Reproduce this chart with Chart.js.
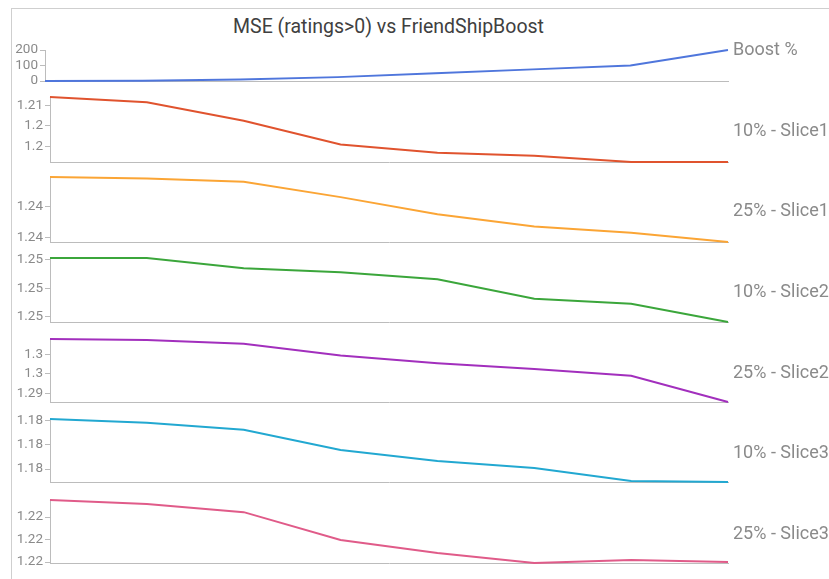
<!DOCTYPE html>
<html>
<head>
<meta charset="utf-8">
<title>MSE (ratings>0) vs FriendShipBoost</title>
<script src="https://cdn.jsdelivr.net/npm/chart.js@4.4.0/dist/chart.umd.min.js"></script>
<style>
  body { margin: 0; background: #fff; font-family: Roboto, "Noto Sans", sans-serif; }
  #frame { position: absolute; left: 11px; top: 8px; width: 830px; height: 600px;
           border-left: 1px solid #cfcfcf; border-top: 1px solid #cfcfcf; }
  #title { position: absolute; left: 0; width: 777px; top: 16px; text-align: center;
           font-size: 19.5px; line-height: 22px; color: #404040; }
  .side { position: absolute; left: 733px; font-size: 18px; line-height: 18px;
          color: #8a8a8a; white-space: nowrap; }
  canvas { position: absolute; left: 0; }
</style>
</head>
<body>
<div id="frame"></div>
<div id="title">MSE (ratings&gt;0) vs FriendShipBoost</div>

<script>
// eight runs, one point each
const runs = ['1', '2', '3', '4', '5', '6', '7', '8'];

const boostPct    = [0, 1, 10, 25, 50, 75, 100, 200];
const mse10Slice1 = [1.2068, 1.2063, 1.2045, 1.2022, 1.2014, 1.2011, 1.2005, 1.2005];
const mse25Slice1 = [1.2419, 1.2418, 1.2416, 1.2406, 1.2395, 1.2387, 1.2383, 1.2377];
const mse10Slice2 = [1.25207, 1.25207, 1.25171, 1.25157, 1.25132, 1.25064, 1.25046, 1.24982];
const mse25Slice2 = [1.2996, 1.2995, 1.2991, 1.2979, 1.2971, 1.2965, 1.2958, 1.2931];
const mse10Slice3 = [1.18108, 1.18092, 1.18063, 1.17979, 1.17933, 1.17904, 1.17850, 1.17846];
const mse25Slice3 = [1.22276, 1.22258, 1.22222, 1.22098, 1.22040, 1.21996, 1.22009, 1.22000];

// y tick values per panel
const boostTicks    = [0, 100, 200];
const ticks10Slice1 = [1.202, 1.204, 1.206];
const ticks25Slice1 = [1.238, 1.240];
const ticks10Slice2 = [1.250, 1.251, 1.252];
const ticks25Slice2 = [1.294, 1.296, 1.298];
const ticks10Slice3 = [1.179, 1.180, 1.181];
const ticks25Slice3 = [1.220, 1.221, 1.222];

const names = ['Boost %', '10% - Slice1', '25% - Slice1', '10% - Slice2',
               '25% - Slice2', '10% - Slice3', '25% - Slice3'];

// panel layout: plot top / bottom, axis x, label centre
const panels = [
  { data: boostPct,    ticks: boostTicks,    color: '#4f76dc', top: 50,  bottom: 81,  left: 45, label: 49 },
  { data: mse10Slice1, ticks: ticks10Slice1, color: '#e0532e', top: 97,  bottom: 162, left: 50, label: 130 },
  { data: mse25Slice1, ticks: ticks25Slice1, color: '#fba535', top: 177, bottom: 242, left: 50, label: 210 },
  { data: mse10Slice2, ticks: ticks10Slice2, color: '#3ba63b', top: 258, bottom: 322, left: 50, label: 291 },
  { data: mse25Slice2, ticks: ticks25Slice2, color: '#a22fbd', top: 339, bottom: 402, left: 50, label: 372 },
  { data: mse10Slice3, ticks: ticks10Slice3, color: '#22a8d1', top: 419, bottom: 482, left: 50, label: 452 },
  { data: mse25Slice3, ticks: ticks25Slice3, color: '#e05b89', top: 500, bottom: 563, left: 50, label: 533 }
];

const PAD = 10;
const AXIS = '#bcbcbc';

function getPanelConfig(p) {
  return {
    type: 'line',
    data: {
      labels: runs,
      datasets: [{
        data: p.data,
        borderColor: p.color,
        borderWidth: 2,
        pointRadius: 0,
        tension: 0,
        clip: false
      }]
    },
    options: {
      responsive: false,
      animation: false,
      layout: { padding: { top: PAD, bottom: PAD, left: 0, right: 12 } },
      plugins: { legend: { display: false }, tooltip: { enabled: false } },
      scales: {
        x: {
          grid: { display: false },
          ticks: { display: false },
          border: { color: AXIS },
          afterFit: function(s) { s.height = 0; s.paddingLeft = 0; s.paddingRight = 0; }
        },
        y: {
          min: Math.min(...p.data),
          max: Math.max(...p.data),
          afterBuildTicks: function(s) { s.ticks = p.ticks.map(function(v) { return { value: v }; }); },
          afterFit: function(s) { s.width = p.left; s.paddingTop = 0; s.paddingBottom = 0; },
          grid: { drawOnChartArea: false, tickLength: 5, color: AXIS },
          border: { color: AXIS },
          ticks: {
            autoSkip: false,
            padding: 2,
            color: '#8a8a8a',
            font: { family: 'Roboto', size: 13.5 },
            callback: function(v) { return Number(v.toFixed(2)).toString(); }
          }
        }
      }
    }
  };
}

panels.forEach(function(p, i) {
  var c = document.createElement('canvas');
  c.width = 740;
  c.height = p.bottom - p.top + 2 * PAD;
  c.style.top = (p.top - PAD) + 'px';
  document.body.appendChild(c);
  new Chart(c, getPanelConfig(p));

  var lab = document.createElement('div');
  lab.className = 'side';
  lab.style.top = (p.label - 9) + 'px';
  lab.textContent = names[i];
  document.body.appendChild(lab);
});
</script>
</body>
</html>
